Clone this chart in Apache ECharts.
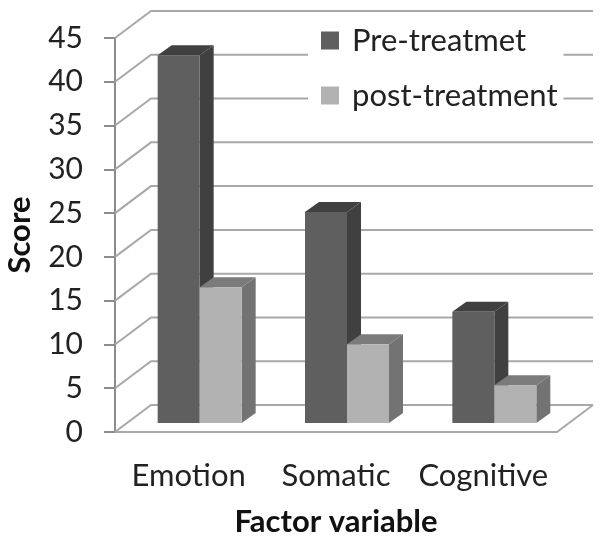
<!DOCTYPE html>
<html>
<head>
<meta charset="utf-8">
<script src="https://cdn.jsdelivr.net/npm/echarts@6/dist/echarts.min.js"></script>
<style>
  html, body { margin: 0; padding: 0; background: #fff; }
  /* reference is a soft scan */
  #chart { width: 604px; height: 544px; filter: blur(0.6px); }
</style>
</head>
<body>
<div id="chart"></div>
<script>
const categories = ['Emotion', 'Somatic', 'Cognitive'];
const preTreatment = [42, 24.1, 12.7];
const postTreatment = [15.5, 9, 4.3];
const wallTicks = [0, 5, 10, 15, 20, 25, 30, 35, 40, 45];

// fake 3D look, offsets in px
const wallDepth = [36, -27];
const barDepth = [14, -10];
const barWidth = 42;
const barShift = 11;
const barLift = 9;

const chart = echarts.init(document.getElementById('chart'));

function wallItem(params, api) {
    const sys = params.coordSys;
    const p = api.coord([0, api.value(1)]);
    const x0 = sys.x, x1 = sys.x + sys.width;
    const bx = x0 + wallDepth[0], by = p[1] + wallDepth[1];
    const children = [{
        type: 'polyline',
        shape: { points: [[x0, p[1]], [bx, by], [x1 + wallDepth[0], by]] },
        style: { fill: null, stroke: '#a8a8a8', lineWidth: 2 }
    }];
    if (api.value(1) === 0) {
        children.push({
            type: 'line',
            shape: { x1: x1, y1: p[1], x2: x1 + wallDepth[0], y2: by },
            style: { stroke: '#a8a8a8', lineWidth: 2 }
        });
    }
    return { type: 'group', children: children };
}

function barRenderer(side, front, sideColor, topColor) {
    return function (params, api) {
        const cat = api.value(0);
        const top = api.coord([cat, api.value(1)]);
        const base = api.coord([cat, 0]);
        const left = top[0] + barShift + (side < 0 ? -barWidth : 0);
        const right = left + barWidth;
        const y0 = top[1] - barLift;
        const y1 = base[1] - barLift;
        const dx = barDepth[0], dy = barDepth[1];
        return {
            type: 'group',
            children: [{
                type: 'polygon',
                shape: { points: [[right, y0], [right + dx, y0 + dy], [right + dx, y1 + dy], [right, y1]] },
                style: { fill: sideColor }
            }, {
                type: 'polygon',
                shape: { points: [[left, y0], [left + dx, y0 + dy], [right + dx, y0 + dy], [right, y0]] },
                style: { fill: topColor }
            }, {
                type: 'rect',
                shape: { x: left, y: y0, width: barWidth, height: y1 - y0 },
                style: { fill: front }
            }]
        };
    };
}

const option = {
    animation: false,
    backgroundColor: '#fff',
    textStyle: { fontFamily: 'Lato' },
    grid: { left: 115, top: 38, width: 442, height: 394, outerBoundsMode: 'none' },
    legend: {
        orient: 'vertical',
        left: 308,
        top: 20,
        padding: [5, 6, 5, 13],
        backgroundColor: '#fff',
        itemWidth: 18,
        itemHeight: 18,
        itemGap: 24,
        icon: 'rect',
        data: ['Pre-treatmet', 'post-treatment'],
        textStyle: { fontSize: 31, color: '#222', fontFamily: 'Lato', padding: [0, 0, 0, 8] }
    },
    xAxis: {
        type: 'category',
        data: categories,
        axisTick: { show: false },
        axisLine: { lineStyle: { color: '#a8a8a8', width: 2 } },
        axisLabel: { fontSize: 31, color: '#222', margin: 28, interval: 0, hideOverlap: false, fontFamily: 'Lato' },
        name: 'Factor variable',
        nameLocation: 'middle',
        nameGap: 74,
        nameMoveOverlap: false,
        nameTextStyle: { fontSize: 31, fontWeight: 'bold', color: '#111', fontFamily: 'Lato' }
    },
    yAxis: {
        type: 'value',
        min: 0,
        max: 45,
        interval: 5,
        splitLine: { show: false },
        axisLine: { show: true, lineStyle: { color: '#8c8c8c', width: 2 } },
        axisTick: { show: true, length: 11, lineStyle: { color: '#8c8c8c', width: 2 } },
        axisLabel: { fontSize: 30, color: '#222', margin: 32, fontFamily: 'Lato' },
        name: 'Score',
        nameLocation: 'middle',
        nameGap: 80,
        nameMoveOverlap: false,
        nameTextStyle: { fontSize: 31, fontWeight: 'bold', color: '#111', fontFamily: 'Lato' }
    },
    series: [{
        name: 'wall',
        type: 'custom',
        silent: true,
        z: 1,
        data: wallTicks.map(t => [0, t]),
        encode: { x: 0, y: 1 },
        renderItem: wallItem
    }, {
        name: 'Pre-treatmet',
        type: 'custom',
        z: 2,
        itemStyle: { color: '#5f5f5f' },
        data: preTreatment.map((v, i) => [i, v]),
        encode: { x: 0, y: 1 },
        renderItem: barRenderer(-1, '#5f5f5f', '#404040', '#404040')
    }, {
        name: 'post-treatment',
        type: 'custom',
        z: 3,
        itemStyle: { color: '#b2b2b2' },
        data: postTreatment.map((v, i) => [i, v]),
        encode: { x: 0, y: 1 },
        renderItem: barRenderer(1, '#b2b2b2', '#737373', '#7b7b7b')
    }]
};
chart.setOption(option);
</script>
</body>
</html>
